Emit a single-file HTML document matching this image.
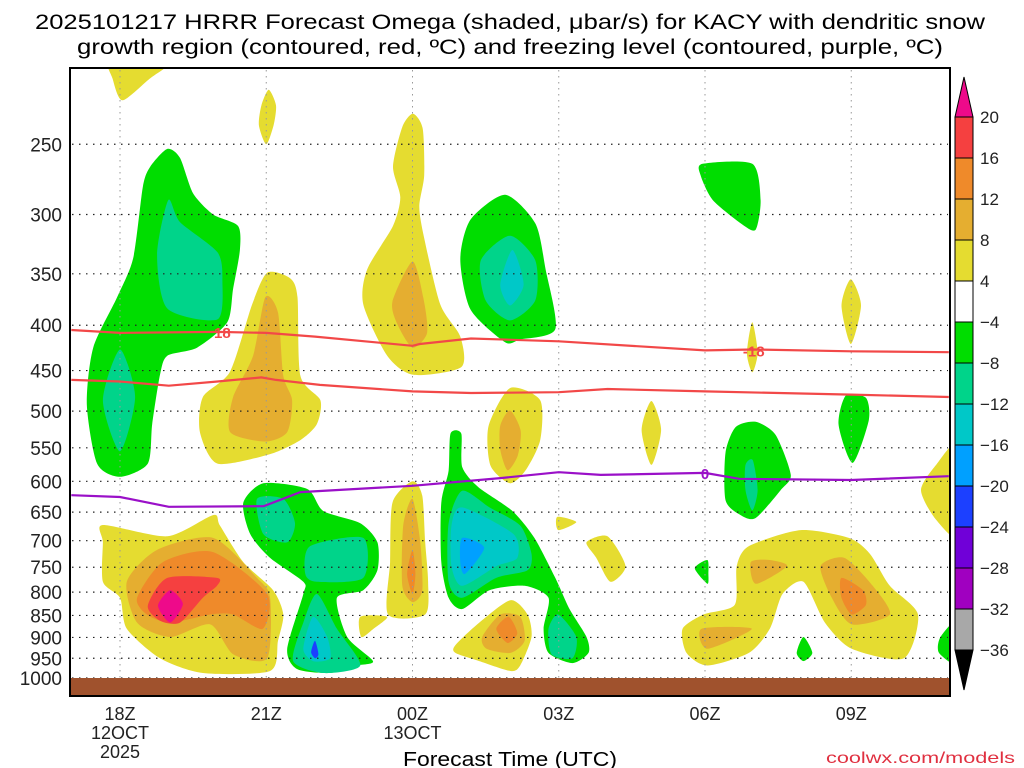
<!DOCTYPE html>
<html><head><meta charset="utf-8"><style>
body{margin:0;background:#fff;width:1024px;height:768px;overflow:hidden}
svg{display:block}
text{font-family:"Liberation Sans",sans-serif}
</style></head><body>
<svg id="chart" width="1024" height="768" viewBox="0 0 1024 768" xmlns="http://www.w3.org/2000/svg">
<text x="510" y="29" font-size="21" text-anchor="middle" textLength="950" lengthAdjust="spacingAndGlyphs">2025101217 HRRR Forecast Omega (shaded, μbar/s) for KACY with dendritic snow</text>
<text x="510" y="54" font-size="21" text-anchor="middle" textLength="866" lengthAdjust="spacingAndGlyphs">growth region (contoured, red, ºC) and freezing level (contoured, purple, ºC)</text>
<g id="fills"></g>
<g id="grid"></g>
<g id="lines"></g>
<rect x="70" y="678" width="880" height="18" fill="#a0522d"/>
<rect x="70" y="68" width="880" height="628" fill="none" stroke="#000" stroke-width="2"/>
<g id="yaxis"></g>
<g id="xaxis"></g>
<text x="510" y="766" font-size="20" text-anchor="middle" textLength="214" lengthAdjust="spacingAndGlyphs">Forecast Time (UTC)</text>
<text x="1015" y="763" font-size="16" text-anchor="end" fill="#e03040" textLength="189" lengthAdjust="spacingAndGlyphs">coolwx.com/models</text>
<g id="cbar"></g>
</svg>
<script>
const pressureTicks=[250,300,350,400,450,500,550,600,650,700,750,800,850,900,950,1000];
const timeTicks=[0,3,6,9,12,15];
const timeLabels=[["18Z","12OCT","2025"],["21Z"],["00Z","13OCT"],["03Z"],["06Z"],["09Z"]];
const cbarValues=[20,16,12,8,4,-4,-8,-12,-16,-20,-24,-28,-32,-36];
const cbarColors=["#f54040","#ef8a2a","#e5ae30","#e5dc30","#ffffff","#00dd00","#00d48a","#00c8c8","#00a0ff","#1c40ff","#7000d8","#a000c0","#a8a8a8"];
const levelColor={"4":"#e5dc30","8":"#e5ae30","12":"#ef8a2a","16":"#f54040","20":"#ee0a8a","-4":"#00dd00","-8":"#00d48a","-12":"#00c8c8","-16":"#00a0ff","-20":"#1c40ff"};

const isoM18Hours=[-1,0,2,3,4,6,6.15,7.2,9,12,13,15,17];
const isoM18Press=[405,408,407,408,412,422,420,414,417,427,426,428,429];
const isoM12Hours=[-1,0,1,2,2.9,3.2,4.1,6,7.2,9,10,12,15,17];
const isoM12Press=[461,463,468,463,458,461,467,475,477,476,472,475,479,482];
const iso0Hours=[-1,0,1,2.95,3.7,6,7.8,9,9.86,12,12.7,15,17];
const iso0Press=[622,625,641,640,617,607,595,586,590,587,596,598,592];

const A_y=[[-0.2,200],[1.1,200],[0.6,211],[0.05,223],[-0.15,211]];
const B_y=[[2.9,226],[3.05,217],[3.2,226],[3.15,238],[3.0,250],[2.85,238]];
const C_g=[[0.97,253],[1.23,259],[1.5,284],[1.91,300],[2.42,309],[2.46,329],[2.32,364],[2.2,397],[1.58,424],[0.97,433],[0.82,455],[0.66,517],[0.57,573],[0,593],[-0.47,573],[-0.68,491],[-0.55,424],[-0.06,372],[0.27,336],[0.47,279],[0.62,265]];
const C_t1=[[0.99,289],[1.23,306],[2.0,331],[2.1,356],[2.0,394],[0.97,383],[0.76,333]];
const C_t2=[[0,426],[0.31,482],[0,555],[-0.35,486]];
const D_y=[[3.02,349],[3.49,354],[3.64,372],[3.70,456],[4.11,486],[4.04,517],[3.70,539],[3.08,559],[2.0,573],[1.64,528],[1.70,482],[2.26,451],[2.71,379]];
const D_o=[[2.98,372],[3.24,387],[3.35,456],[3.53,486],[3.43,528],[2.98,541],[2.26,528],[2.32,482],[2.73,433]];
const E_y=[[6.01,231],[6.21,240],[6.24,271],[6.14,294],[6.24,319],[6.57,379],[6.98,412],[7.0,446],[6.02,455],[5.48,433],[4.99,379],[5.07,346],[5.6,309],[5.75,287],[5.6,265],[5.79,239]];
const E_o=[[6.0,339],[6.22,372],[6.3,408],[6.0,424],[5.69,399],[5.59,376]];
const F_g=[[7.9,285],[8.52,307],[8.73,346],[8.93,404],[8.21,415],[7.9,418],[7.19,384],[6.98,337],[7.19,304]];
const F_t=[[8.0,317],[8.52,338],[8.52,375],[8.0,395],[7.5,375],[7.4,338]];
const F_c=[[8.05,329],[8.28,360],[8.0,380],[7.8,360]];
const G_y=[[8.0,471],[8.62,486],[8.62,539],[8.32,583],[8.0,603],[7.6,576],[7.56,520]];
const G_o=[[8.0,499],[8.22,526],[8.16,561],[7.95,583],[7.8,553],[7.8,519]];
const H_g=[[11.95,263],[12.97,263],[13.14,289],[13.04,312],[12.77,308],[12.16,289],[11.91,271]];
const S1_y=[[12.97,397],[13.08,430],[12.97,452],[12.86,430]];
const S2_y=[[14.99,355],[15.2,380],[14.99,420],[14.8,380]];
const S3_y=[[10.9,487],[11.1,525],[10.9,575],[10.7,525]];
const S4_g=[[14.89,480],[15.3,483],[15.36,512],[15.03,572],[14.74,518]];
const T_g=[[13.04,514],[13.45,532],[13.76,590],[13.55,614],[13.04,660],[12.73,655],[12.42,630],[12.42,557],[12.63,521]];
const T_t=[[12.98,568],[13.08,614],[12.97,647],[12.83,614],[12.83,575]];
const R_y=[[17.2,545],[17.2,690],[16.74,663],[16.43,614],[16.74,575]];
const I_y=[[-0.35,672],[0.97,692],[1.91,655],[2.05,673],[2.53,740],[3.14,796],[3.35,848],[3.24,908],[3.08,982],[1.7,987],[0.82,950],[0.14,880],[0,812],[-0.35,779],[-0.35,703]];
const I_lo=[[0.14,779],[0.76,717],[1.91,695],[2.81,771],[3.08,812],[3.02,950],[2.32,940],[1.85,870],[1.03,899],[0.35,866]];
const I_o=[[0.35,812],[0.88,740],[1.91,721],[3.02,804],[2.93,880],[2.32,848],[1.85,848],[1.03,866],[0.55,848]];
const I_r=[[0.57,829],[0.97,771],[1.99,771],[1.99,787],[1.7,812],[1.23,866],[0.82,862]];
const I_m=[[0.78,829],[1.03,796],[1.29,825],[1.03,866]];
const J_g=[[2.53,634],[2.94,603],[3.84,612],[4.17,648],[4.93,669],[5.28,703],[5.28,756],[4.99,796],[4.45,812],[4.66,899],[5.19,957],[4.86,968],[4.31,987],[3.63,977],[3.43,927],[3.76,804],[3.76,779],[3.08,732],[2.67,688]];
const J_t1=[[2.81,628],[3.35,628],[3.59,669],[3.43,703],[2.94,688]];
const J_t2=[[3.9,710],[4.99,695],[4.99,771],[4.04,779],[3.8,763]];
const J_t3=[[4.04,804],[4.45,880],[4.93,968],[4.17,987],[3.55,957],[3.76,866]];
const J_c=[[3.96,853],[4.25,899],[4.31,950],[3.96,957],[3.76,927]];
const J_b=[[4.0,908],[4.07,940],[4.0,950],[3.92,935]];
const K_y=[[6.0,600],[6.2,623],[6.26,703],[6.32,779],[6.26,848],[5.5,848],[5.54,740],[5.59,634]];
const K_lo=[[6.0,628],[6.16,703],[6.2,796],[6.0,821],[5.79,787],[5.81,673]];
const K_o=[[6.0,717],[6.06,763],[6.0,804],[5.89,763]];
const S5_y=[[4.93,853],[5.48,853],[5.2,880],[4.95,899]];
const L_g=[[6.78,530],[7.0,530],[7.02,578],[7.35,609],[8.05,648],[8.5,695],[8.93,771],[9.22,836],[9.57,899],[9.61,937],[9.28,962],[8.79,937],[8.69,880],[8.79,812],[8.3,787],[7.58,796],[7.02,836],[6.74,812],[6.59,740],[6.59,634],[6.74,584]];
const L_t=[[7.02,615],[7.58,642],[8.21,673],[8.44,724],[8.36,756],[7.72,771],[7.02,812],[6.74,779],[6.74,669]];
const L_c=[[7.02,642],[8.07,688],[8.15,732],[7.72,748],[7.02,787],[6.8,748],[6.8,673]];
const L_b=[[7.02,695],[7.47,713],[7.08,763],[6.98,740]];
const L_t2=[[8.99,848],[9.36,899],[9.28,950],[8.85,940],[8.79,880]];
const M_y=[[6.88,918],[7.37,866],[8.01,817],[8.36,848],[8.44,899],[8.21,968],[8.01,982],[7.37,957],[6.88,937]];
const M_lo=[[7.43,899],[7.8,848],[8.21,853],[8.3,908],[8.01,937],[7.52,927]];
const M_o=[[7.72,880],[7.97,853],[8.15,890],[7.95,913]];
const S6_y=[[8.97,658],[9.36,667],[8.99,681]];
const S7_y=[[9.57,703],[10.0,692],[10.37,748],[10.06,779],[9.77,732]];
const S8_g=[[11.79,752],[12.05,736],[12.07,763],[12.05,783]];
const S9_g=[[14.02,899],[14.2,937],[14.02,957],[13.88,937]];
const S10_g=[[17.2,860],[17.2,965],[16.8,937],[16.83,899]];
const N_y=[[11.54,880],[11.97,848],[12.61,827],[12.65,748],[12.9,710],[13.96,681],[14.95,695],[15.38,724],[15.79,787],[16.37,848],[16.08,950],[15.01,927],[14.46,866],[14.02,779],[13.59,804],[13.33,880],[12.9,937],[12.05,968],[11.62,937]];
const N_lo1=[[14.37,748],[14.86,732],[15.44,787],[15.79,848],[15.01,870],[14.6,812]];
const N_o=[[14.8,771],[15.24,796],[15.3,827],[15.01,848],[14.8,812]];
const N_lo2=[[12.94,740],[13.33,736],[13.68,748],[13.04,783]];
const N_lo3=[[11.93,880],[12.96,880],[12.05,927]];

const regionList=[
 ["top-left-ascent-4",A_y,4],["ascent-21z-top",B_y,4],
 ["descent-19z-upper",C_g,-4],["descent-19z-upper-core",C_t1,-8],["descent-18z-core",C_t2,-8],
 ["ascent-21z-mid",D_y,4],["ascent-21z-mid-core",D_o,8],
 ["ascent-00z-upper",E_y,4],["ascent-00z-upper-core",E_o,8],
 ["descent-02z-upper",F_g,-4],["descent-02z-upper-mid",F_t,-8],["descent-02z-upper-core",F_c,-12],
 ["ascent-02z-mid",G_y,4],["ascent-02z-mid-core",G_o,8],
 ["descent-07z-top",H_g,-4],["ascent-07z-sliver",S1_y,4],["ascent-09z-sliver",S2_y,4],["ascent-05z-sliver",S3_y,4],
 ["descent-09z-mid",S4_g,-4],["descent-07z-mid",T_g,-4],["descent-07z-mid-core",T_t,-8],["ascent-right-edge",R_y,4],
 ["ascent-19z-low",I_y,4],["ascent-19z-low-8",I_lo,8],["ascent-19z-low-12",I_o,12],["ascent-19z-low-16",I_r,16],["ascent-19z-low-max",I_m,20],
 ["descent-22z-low",J_g,-4],["descent-22z-low-a",J_t1,-8],["descent-22z-low-b",J_t2,-8],["descent-22z-low-c",J_t3,-8],["descent-22z-low-12",J_c,-12],["descent-22z-low-max",J_b,-20],
 ["ascent-00z-low",K_y,4],["ascent-00z-low-8",K_lo,8],["ascent-00z-low-12",K_o,12],["ascent-23z-small",S5_y,4],
 ["descent-01z-low",L_g,-4],["descent-01z-low-8",L_t,-8],["descent-01z-low-12",L_c,-12],["descent-01z-low-max",L_b,-16],["descent-03z-tail",L_t2,-8],
 ["ascent-02z-low",M_y,4],["ascent-02z-low-8",M_lo,8],["ascent-02z-low-12",M_o,12],
 ["ascent-03z-small",S6_y,4],["ascent-04z-small",S7_y,4],["descent-06z-small",S8_g,-4],["descent-08z-small",S9_g,-4],["descent-right-small",S10_g,-4],
 ["ascent-08z-low",N_y,4],["ascent-09z-low-8",N_lo1,8],["ascent-09z-low-12",N_o,12],["ascent-07z-low-8",N_lo2,8],["ascent-06z-low-8",N_lo3,8]
];

const NS="http://www.w3.org/2000/svg";
function xs(h){return 120+h*48.75;}
function ys(p){return 678+385*Math.log(p/1000);}
function mk(tag,attrs,parent){const e=document.createElementNS(NS,tag);for(const k in attrs)e.setAttribute(k,attrs[k]);parent.appendChild(e);return e;}
function smooth(pts){
 const n=pts.length;let d="";
 for(let i=0;i<n;i++){
  const p0=pts[(i-1+n)%n],p1=pts[i],p2=pts[(i+1)%n],p3=pts[(i+2)%n];
  if(i===0)d+="M"+p1[0].toFixed(1)+","+p1[1].toFixed(1);
  const c1=[p1[0]+(p2[0]-p0[0])/8,p1[1]+(p2[1]-p0[1])/8];
  const c2=[p2[0]-(p3[0]-p1[0])/8,p2[1]-(p3[1]-p1[1])/8];
  d+="C"+c1[0].toFixed(1)+","+c1[1].toFixed(1)+" "+c2[0].toFixed(1)+","+c2[1].toFixed(1)+" "+p2[0].toFixed(1)+","+p2[1].toFixed(1);
 }
 return d+"Z";
}
const svg=document.getElementById("chart");
const defs=mk("defs",{},svg);
const cp=mk("clipPath",{id:"plotclip"},defs);
mk("rect",{x:70,y:68,width:880,height:628},cp);
const fills=document.getElementById("fills");
fills.setAttribute("clip-path","url(#plotclip)");
regionList.forEach(r=>{
 const pts=r[1].map(q=>[xs(q[0]),ys(q[1])]);
 const el=mk("path",{d:smooth(pts),fill:levelColor[String(r[2])]},fills);
 
 
});
const grid=document.getElementById("grid");
pressureTicks.forEach(p=>{
 const el=mk("line",{x1:72,x2:948,y1:ys(p),y2:ys(p),stroke:"#222","stroke-width":1.2,"stroke-dasharray":"1.5 5.5"},grid);
 
 
});
timeTicks.forEach(h=>{
 const el=mk("line",{x1:xs(h),x2:xs(h),y1:70,y2:696,stroke:"#999","stroke-width":1,"stroke-dasharray":"1.5 4.5"},grid);
 
 
});
const lines=document.getElementById("lines");
lines.setAttribute("clip-path","url(#plotclip)");
function drawLine(hs,ps,col,name){
 const d=hs.map((h,i)=>(i?"L":"M")+xs(h).toFixed(1)+","+ys(ps[i]).toFixed(1)).join("");
 const el=mk("path",{d:d,fill:"none",stroke:col,"stroke-width":2.2},lines);
 
 
}
drawLine(isoM18Hours,isoM18Press,"#f24848","isotherm-minus18");
drawLine(isoM12Hours,isoM12Press,"#f24848","isotherm-minus12");
drawLine(iso0Hours,iso0Press,"#9a10c8","freezing-level");
function label(h,p,t,col,name){
 const el=mk("text",{x:xs(h),y:ys(p)+6,"font-size":15,"font-weight":"bold","text-anchor":"middle",fill:col},lines);
 el.textContent=t;
 
 
}
label(2.1,407,"18","#f24848","isotherm-label-1");
label(13.0,427,"-18","#f24848","isotherm-label-2");
label(12.0,587,"0","#9a10c8","freezing-level-label");
const ya=document.getElementById("yaxis");
pressureTicks.forEach(p=>{
 const el=mk("text",{x:62,y:ys(p)+7,"font-size":19,"text-anchor":"end",fill:"#222"},ya);
 el.textContent=p;
 
 
});
const xa=document.getElementById("xaxis");
timeTicks.forEach((h,i)=>{
 timeLabels[i].forEach((t,j)=>{
  const el=mk("text",{x:xs(h),y:720+j*19,"font-size":18,"text-anchor":"middle",fill:"#222"},xa);
  el.textContent=t;
  
  
 });
});
const cb=document.getElementById("cbar");
const cbTop=117,cbStep=41,cbX=955,cbW=18;
mk("path",{d:`M${cbX},${cbTop} L${cbX+cbW/2},${cbTop-40} L${cbX+cbW},${cbTop} Z`,fill:"#ee0a8a",stroke:"#000"},cb);
cbarColors.forEach((c,i)=>{
 const el=mk("rect",{x:cbX,y:cbTop+i*cbStep,width:cbW,height:cbStep,fill:c,stroke:"#000","stroke-width":1},cb);
 
 
});
const cbBot=cbTop+cbarColors.length*cbStep;
mk("path",{d:`M${cbX},${cbBot} L${cbX+cbW/2},${cbBot+40} L${cbX+cbW},${cbBot} Z`,fill:"#000",stroke:"#000"},cb);
cbarValues.forEach((v,i)=>{
 const el=mk("text",{x:980,y:cbTop+i*cbStep+6,"font-size":17,fill:"#222"},cb);
 el.textContent=v<0?"−"+Math.abs(v):v;
 
 
});
</script>
</body></html>
